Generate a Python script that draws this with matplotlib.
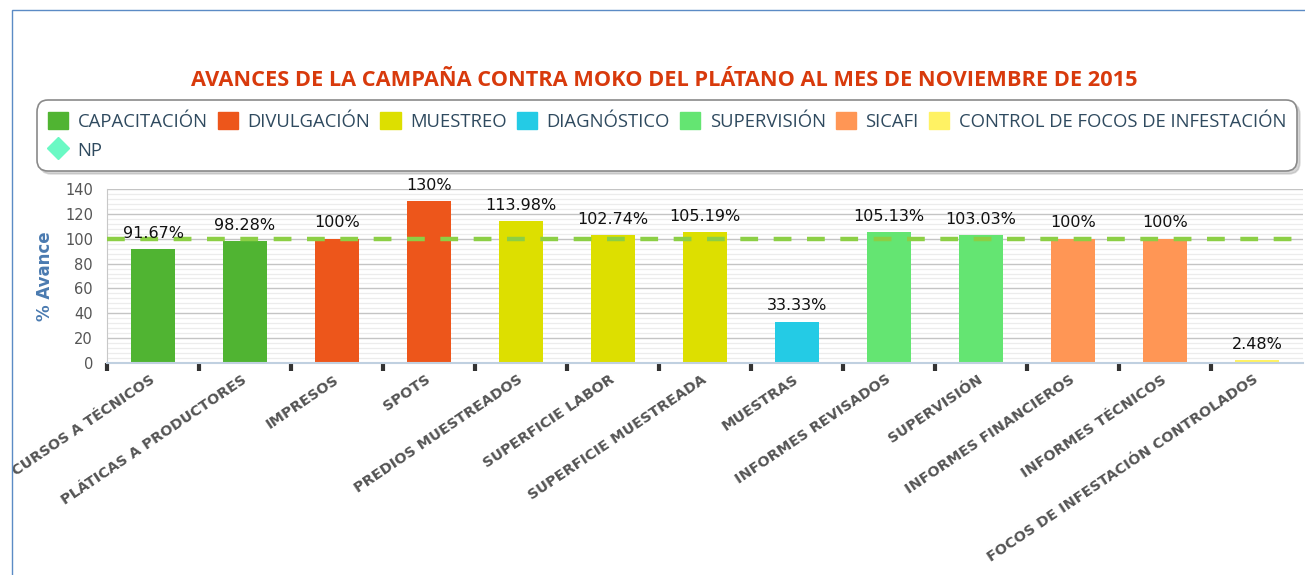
import matplotlib
matplotlib.use("Agg")
import matplotlib.pyplot as plt
import matplotlib.transforms as mtrans
from matplotlib.patches import Patch, Rectangle
from matplotlib.lines import Line2D
from matplotlib.ticker import MultipleLocator, FixedLocator

title = "AVANCES DE LA CAMPAÑA CONTRA MOKO DEL PLÁTANO AL MES DE NOVIEMBRE DE 2015"
categories = ["CURSOS A TÉCNICOS", "PLÁTICAS A PRODUCTORES", "IMPRESOS", "SPOTS",
              "PREDIOS MUESTREADOS", "SUPERFICIE LABOR", "SUPERFICIE MUESTREADA",
              "MUESTRAS", "INFORMES REVISADOS", "SUPERVISIÓN", "INFORMES FINANCIEROS",
              "INFORMES TÉCNICOS", "FOCOS DE INFESTACIÓN CONTROLADOS"]
values = [91.67, 98.28, 100, 130, 113.98, 102.74, 105.19, 33.33, 105.13, 103.03, 100, 100, 2.48]
labels = ["91.67%", "98.28%", "100%", "130%", "113.98%", "102.74%", "105.19%",
          "33.33%", "105.13%", "103.03%", "100%", "100%", "2.48%"]
series_names = ["CAPACITACIÓN", "DIVULGACIÓN", "MUESTREO", "DIAGNÓSTICO",
                "SUPERVISIÓN", "SICAFI", "CONTROL DE FOCOS DE INFESTACIÓN"]
series_colors = ["#50B432", "#ED561B", "#DDDF00", "#24CBE5", "#64E572", "#FF9655", "#FFF263"]
category_series = [0, 0, 1, 1, 2, 2, 2, 3, 4, 4, 5, 5, 6]
np_value = 100
np_name = "NP"
np_marker_color = "#6AF9C4"
np_line_color = "#8CCF45"
y_ticks = [0, 20, 40, 60, 80, 100, 120, 140]

fig = plt.figure(figsize=(13.05, 5.75), dpi=100)
fig.patch.set_facecolor("white")

# outer frame (left & top blue line)
fig.add_artist(Rectangle((12 / 1305, -0.1), 1.2, (575 - 10) / 575 + 0.1, transform=fig.transFigure,
                         fill=False, edgecolor="#5b8bc5", linewidth=1.0))

ax = fig.add_axes([107 / 1305, 1 - 363 / 575, (1303 - 107) / 1305, (363 - 189) / 575])
x = list(range(len(categories)))
colors = [series_colors[s] for s in category_series]
ax.bar(x, values, width=0.47, color=colors, zorder=2)

ax.axhline(np_value, color=np_line_color, linestyle=(0, (4, 3.5)), linewidth=3.2, zorder=3)

for xi, v, lab in zip(x, values, labels):
    ax.annotate(lab, (xi, v), xytext=(0, 6), textcoords="offset points",
                ha="center", va="bottom", fontsize=11.5, color="#111111",
                family="DejaVu Sans", zorder=4, annotation_clip=False)

ax.set_xlim(-0.5, len(categories) - 0.5)
ax.set_ylim(0, 140)
ax.yaxis.set_major_locator(FixedLocator(y_ticks))
ax.yaxis.set_minor_locator(MultipleLocator(4))
ax.grid(axis="y", which="major", color="#c4c4c4", linewidth=1.0, zorder=0)
ax.grid(axis="y", which="minor", color="#ececec", linewidth=0.9, zorder=0)
ax.set_axisbelow(True)

for sp in ["top", "right"]:
    ax.spines[sp].set_visible(False)
ax.spines["left"].set_color("#c8c8c8")
ax.spines["bottom"].set_color("#c0d0e0")
ax.spines["bottom"].set_linewidth(1.5)

ax.set_xticks(x)
ax.set_xticklabels(categories, rotation=34, ha="right", va="center", rotation_mode="anchor",
                   fontsize=10.4, fontweight="bold", color="#555555", family="DejaVu Sans")
shift = mtrans.ScaledTranslation(5 / 100, 0, fig.dpi_scale_trans)
for t in ax.get_xticklabels():
    t.set_transform(t.get_transform() + shift)
ax.tick_params(axis="x", which="major", length=0, pad=11)
ax.set_xticks([i - 0.5 for i in range(len(categories))], minor=True)
ax.tick_params(axis="x", which="minor", length=6, width=3, color="#333333", direction="out")
ax.tick_params(axis="y", which="both", length=0, pad=10, labelsize=10.5, labelcolor="#555555")

ax.set_ylabel("% Avance", fontsize=12, fontweight="bold", color="#4a7ab0", labelpad=8)

fig.text(664 / 1305, 1 - 80 / 575, title, ha="center", va="center", fontsize=15.7,
         fontweight="bold", color="#D83A0C", family="Open Sans")

handles = [Patch(facecolor=c, edgecolor=c, label=n) for n, c in zip(series_names, series_colors)]
np_handle = Line2D([], [], marker="D", linestyle="none", markersize=11, color=np_marker_color,
                   label=np_name)
order = [handles[0], np_handle] + handles[1:]
leg = fig.legend(handles=order, ncol=7, loc="upper left",
                 bbox_to_anchor=(37 / 1305, 1 - 101 / 575, (1297 - 37) / 1305, 0.001),
                 mode="expand", frameon=True, fancybox=True,
                 shadow={"color": "#b0b0b0", "ox": 2, "oy": -2},
                 borderaxespad=0,
                 prop={"family": "Open Sans", "size": 13.3}, labelcolor="#2f4a5f",
                 handlelength=1.1, handleheight=1.1, handletextpad=0.5, columnspacing=0.6,
                 borderpad=0.6, labelspacing=0.55)
frame = leg.get_frame()
frame.set_edgecolor("#8a8a8a")
frame.set_linewidth(1.2)
frame.set_boxstyle("round,pad=0,rounding_size=0.6")

fig.savefig("out.png", dpi=100)
